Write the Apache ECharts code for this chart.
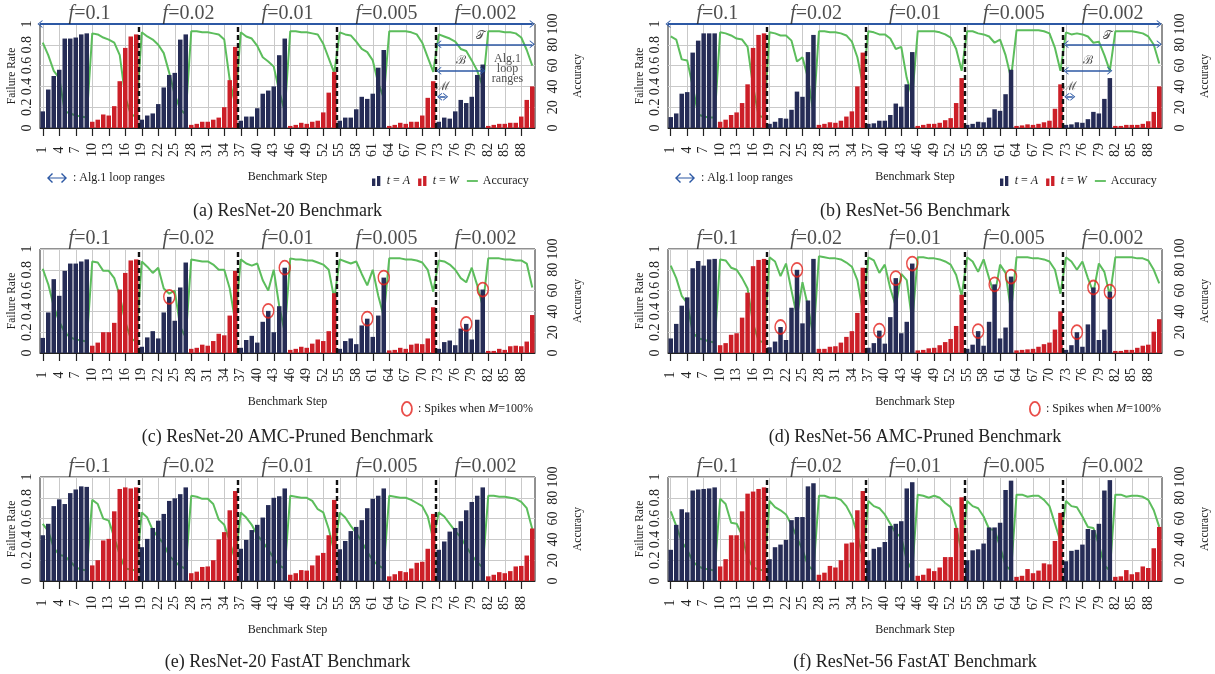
<!DOCTYPE html>
<html><head><meta charset="utf-8">
<script src="https://cdn.jsdelivr.net/npm/echarts@6/dist/echarts.min.js"></script>
<style>html,body{margin:0;padding:0;background:#fff}#c{width:1215px;height:674px}</style>
</head><body><div id="c"></div>
<script>
// ---------------- data ----------------
const steps = []; for (let i = 1; i <= 90; i++) steps.push(String(i));
const fLabels = ['0.1', '0.02', '0.01', '0.005', '0.002'];
const segBounds = [18.5, 36.5, 54.5, 72.5];

// (a) ResNet-20
const r20Fail = [0.16,0.37,0.50,0.56,0.86,0.86,0.87,0.90,0.91, 0.06,0.08,0.13,0.12,0.21,0.45,0.77,0.88,0.90,
  0.08,0.12,0.14,0.23,0.39,0.51,0.53,0.85,0.90, 0.03,0.04,0.06,0.06,0.08,0.10,0.20,0.46,0.78,
  0.07,0.11,0.11,0.19,0.33,0.36,0.40,0.70,0.86, 0.02,0.03,0.05,0.04,0.06,0.07,0.15,0.34,0.54,
  0.07,0.10,0.10,0.18,0.30,0.28,0.33,0.58,0.75, 0.02,0.03,0.05,0.04,0.06,0.06,0.12,0.29,0.45,
  0.06,0.10,0.09,0.16,0.27,0.24,0.30,0.51,0.61, 0.02,0.03,0.04,0.04,0.05,0.05,0.11,0.27,0.40];
const r20Acc = [82,70,55,48,16,14,12,11,10, 91,90,87,85,82,70,30,13,11,
  92,88,85,80,72,53,32,18,13, 93,93,92,92,91,90,85,46,22,
  92,88,86,79,68,64,59,35,16, 93,93,92,92,91,90,81,67,53,
  92,90,89,83,76,73,65,43,29, 93,93,93,93,92,90,82,68,54,
  90,88,86,83,76,74,65,55,40, 93,93,93,92,92,91,87,75,60];
// (b) ResNet-56
const r56Fail = [0.105,0.14,0.33,0.345,0.725,0.84,0.91,0.91,0.91, 0.06,0.08,0.125,0.15,0.24,0.42,0.77,0.895,0.91,
  0.04,0.06,0.095,0.09,0.175,0.35,0.30,0.73,0.895, 0.03,0.04,0.055,0.05,0.07,0.11,0.16,0.40,0.725,
  0.04,0.045,0.07,0.07,0.125,0.235,0.205,0.42,0.73, 0.02,0.03,0.04,0.04,0.05,0.075,0.095,0.24,0.48,
  0.03,0.04,0.06,0.055,0.10,0.18,0.165,0.325,0.56, 0.02,0.025,0.035,0.03,0.04,0.055,0.07,0.185,0.42,
  0.03,0.035,0.055,0.05,0.085,0.155,0.14,0.28,0.48, 0.02,0.02,0.03,0.03,0.03,0.04,0.065,0.155,0.40];
const r56Acc = [88,85,66,65,40,13,11,10,10, 92,91,89,86,85,78,40,12,10,
  92,91,89,89,84,64,68,48,14, 93,93,92,92,91,89,83,68,42,
  93,92,90,90,86,76,78,48,30, 93,93,93,93,92,90,87,76,55,
  93,93,91,90,88,82,85,70,48, 94,94,94,94,94,93,91,77,55,
  92,90,91,90,88,82,83,70,55, 93,93,93,93,92,91,88,80,62];
// (c) ResNet-20 AMC-Pruned
const r20AmcFail = [0.145,0.39,0.71,0.55,0.79,0.86,0.86,0.88,0.90, 0.07,0.10,0.20,0.20,0.29,0.61,0.77,0.89,0.90,
  0.06,0.15,0.21,0.14,0.39,0.54,0.31,0.63,0.87, 0.04,0.05,0.08,0.07,0.115,0.185,0.17,0.36,0.79,
  0.05,0.125,0.165,0.10,0.30,0.405,0.20,0.45,0.82, 0.03,0.04,0.06,0.05,0.09,0.13,0.115,0.21,0.575,
  0.04,0.115,0.14,0.085,0.265,0.33,0.155,0.36,0.725, 0.025,0.03,0.05,0.04,0.08,0.09,0.085,0.14,0.44,
  0.04,0.105,0.12,0.075,0.235,0.28,0.13,0.32,0.61, 0.02,0.02,0.04,0.03,0.065,0.07,0.065,0.11,0.365];
const r20AmcAcc = [81,66,45,30,20,15,13,12,11, 88,87,79,79,72,55,30,14,11,
  88,83,77,82,62,57,60,25,15, 90,89,88,88,85,80,80,62,30,
  90,86,84,86,70,60,80,45,20, 91,90,90,89,89,87,85,80,52,
  90,88,86,88,76,65,80,55,35, 91,91,91,90,90,89,87,80,59,
  89,88,85,80,72,68,82,65,45, 91,91,91,90,90,89,89,86,63];
const r20AmcSpikes = [24, 42, 45, 60, 63, 78, 81];
// (d) ResNet-56 AMC-Pruned
const r56AmcFail = [0.14,0.28,0.455,0.535,0.815,0.885,0.84,0.90,0.905, 0.075,0.095,0.175,0.19,0.34,0.58,0.835,0.895,0.905,
  0.055,0.11,0.25,0.125,0.435,0.80,0.285,0.505,0.905, 0.04,0.04,0.06,0.065,0.10,0.155,0.21,0.385,0.82,
  0.05,0.095,0.215,0.09,0.345,0.72,0.19,0.30,0.86, 0.025,0.03,0.045,0.05,0.075,0.105,0.135,0.26,0.56,
  0.04,0.08,0.21,0.07,0.30,0.66,0.14,0.245,0.735, 0.025,0.03,0.035,0.04,0.06,0.085,0.10,0.225,0.40,
  0.03,0.075,0.20,0.06,0.275,0.63,0.125,0.225,0.59, 0.02,0.02,0.03,0.03,0.05,0.07,0.08,0.205,0.325];
const r56AmcAcc = [84,72,55,48,20,14,13,11,10, 90,89,82,80,72,62,28,12,10,
  92,88,74,86,60,35,68,45,15, 93,92,91,91,90,87,83,70,40,
  92,89,77,85,62,45,76,70,30, 92,92,91,91,90,88,85,75,55,
  92,88,78,90,72,55,85,77,40, 92,92,92,91,91,90,88,80,57,
  92,88,80,88,72,58,86,78,55, 92,92,92,92,91,91,89,80,67];
const r56AmcSpikes = [21, 24, 39, 42, 45, 57, 60, 63, 75, 78, 81];
// (e) ResNet-20 FastAT
const r20FatFail = [0.44,0.55,0.72,0.785,0.74,0.845,0.88,0.91,0.905, 0.15,0.20,0.39,0.405,0.67,0.885,0.90,0.89,0.90,
  0.325,0.405,0.51,0.58,0.645,0.77,0.795,0.835,0.90, 0.075,0.09,0.135,0.14,0.20,0.40,0.47,0.68,0.865,
  0.31,0.395,0.49,0.54,0.61,0.73,0.80,0.815,0.89, 0.06,0.075,0.105,0.10,0.15,0.245,0.27,0.44,0.78,
  0.305,0.385,0.48,0.52,0.585,0.70,0.79,0.82,0.89, 0.045,0.065,0.095,0.085,0.12,0.175,0.185,0.31,0.645,
  0.30,0.38,0.475,0.51,0.575,0.68,0.76,0.82,0.90, 0.045,0.06,0.085,0.075,0.095,0.14,0.145,0.245,0.505];
const r20FatAcc = [55,48,32,25,24,19,13,11,10, 78,74,60,58,42,25,12,11,10,
  66,61,49,42,36,24,19,14,12, 82,81,79,79,74,59,54,38,20,
  66,61,54,44,38,30,22,15,12, 82,81,80,80,77,69,66,50,28,
  66,61,53,46,38,28,20,15,12, 82,81,80,80,78,75,72,62,40,
  66,62,55,48,42,33,25,18,13, 82,82,81,81,80,79,76,70,50];
// (f) ResNet-56 FastAT
const r56FatFail = [0.30,0.54,0.69,0.66,0.87,0.88,0.885,0.89,0.90, 0.14,0.21,0.44,0.44,0.67,0.84,0.86,0.885,0.90,
  0.21,0.325,0.35,0.395,0.585,0.615,0.615,0.91,0.94, 0.06,0.08,0.145,0.13,0.20,0.36,0.37,0.68,0.865,
  0.20,0.31,0.325,0.375,0.53,0.55,0.575,0.89,0.95, 0.05,0.06,0.12,0.095,0.13,0.23,0.23,0.51,0.805,
  0.20,0.295,0.305,0.36,0.515,0.515,0.56,0.875,0.965, 0.04,0.05,0.115,0.075,0.10,0.17,0.16,0.385,0.655,
  0.19,0.29,0.30,0.35,0.50,0.49,0.55,0.87,0.97, 0.04,0.045,0.105,0.065,0.085,0.14,0.125,0.315,0.52];
const r56FatAcc = [67,53,38,30,19,14,12,11,10, 79,74,56,55,44,22,13,11,10,
  77,71,68,64,54,42,30,15,10, 82,82,80,80,78,72,62,45,22,
  77,72,70,64,55,46,42,20,10, 83,82,80,82,80,75,71,52,28,
  77,72,70,62,50,49,33,15,10, 83,83,81,82,82,78,72,55,38,
  77,72,71,62,52,51,35,15,10, 83,83,81,82,82,81,78,68,52];

// Alg.1 loop ranges (data coordinates: step, failure rate)
const loopArrows = [
  { from: [0.5, 1], to: [90, 1], width: 2 },
  { from: [73, 0.805], to: [90, 0.805], width: 1.5 },
  { from: [73, 0.55], to: [81, 0.55], width: 1.5 },
  { from: [73.15, 0.3], to: [74.25, 0.3], width: 1.5 }
];
const loopLetters = [[80.6, 0.89, '𝒯'], [77, 0.645, 'ℬ'], [73.8, 0.40, 'ℳ']];
const loopNote = [[85.5, 0.57, 'Alg.1\nloop\nranges']];

// ---------------- style ----------------
const SERIF = "'Liberation Serif','DejaVu Serif',serif";
const NAVY = '#262c56', RED = '#cc1f28', GREEN = '#5cbd5c', BLUE = '#2c58a4';
const GRIDC = '#c9c9c9', INK = '#222';
const CHEV = 'path://M0,10 L10,0 L20,10 L17.4,10 L10,2.9 L2.6,10 Z';
const BAR_ICON = 'path://M0,3 L4,3 L4,12 L0,12 Z M6,0 L10,0 L10,12 L6,12 Z';
const LINE_ICON = 'path://M0,0 L12,0 L12,2 L0,2 Z';
const DBL_ARROW = 'path://M0,5 L5,0 L6,1 L2.4,4.4 L17.6,4.4 L14,1 L15,0 L20,5 L15,10 L14,9 L17.6,5.6 L2.4,5.6 L6,9 L5,10 Z';
const ELLIPSE = 'path://M5,0 A5,7 0 1,0 5,14 A5,7 0 1,0 5,0 Z';

const panels = [
  { fail: r20Fail, acc: r20Acc, left: 40, top: 24, width: 495, capY: 211, caption: '(a) ResNet-20 Benchmark', loop: true, note: true },
  { fail: r56Fail, acc: r56Acc, left: 668, top: 24, width: 494, capY: 211, caption: '(b) ResNet-56 Benchmark', loop: true, note: false },
  { fail: r20AmcFail, acc: r20AmcAcc, left: 40, top: 249, width: 495, capY: 437, caption: '(c) ResNet-20 AMC-Pruned Benchmark', spikes: r20AmcSpikes },
  { fail: r56AmcFail, acc: r56AmcAcc, left: 668, top: 249, width: 494, capY: 437, caption: '(d) ResNet-56 AMC-Pruned Benchmark', spikes: r56AmcSpikes },
  { fail: r20FatFail, acc: r20FatAcc, left: 40, top: 477, width: 495, capY: 662, caption: '(e) ResNet-20 FastAT Benchmark' },
  { fail: r56FatFail, acc: r56FatAcc, left: 668, top: 477, width: 494, capY: 662, caption: '(f) ResNet-56 FastAT Benchmark' }
];
const PH = 104;

const option = {
  animation: false, backgroundColor: '#fff',
  grid: [], xAxis: [], yAxis: [], series: [], legend: [], graphic: []
};
const isA = i => (i % 18) < 9;

panels.forEach((p, k) => {
  option.grid.push({ left: p.left, top: p.top, width: p.width, height: PH, show: true, borderColor: INK, borderWidth: 1, backgroundColor: 'rgba(0,0,0,0)' });
  const cx = 2 * k, vx = 2 * k + 1, ly = 2 * k, ry = 2 * k + 1;
  option.xAxis.push({
    type: 'category', gridIndex: k, data: steps, boundaryGap: true,
    axisLine: { show: true, lineStyle: { color: INK, width: 1 } },
    axisTick: { show: true, interval: 2, alignWithLabel: true, length: 8, lineStyle: { color: INK, width: 1.2 } },
    axisLabel: { interval: 2, rotate: 90, align: 'center', verticalAlign: 'middle', margin: 22, fontSize: 14, fontFamily: SERIF, color: INK },
    splitLine: { show: true, interval: 2, alignWithLabel: true, lineStyle: { color: GRIDC, width: 1 } },
    name: 'Benchmark Step', nameLocation: 'middle', nameGap: 43,
    nameTextStyle: { fontSize: 12, fontFamily: SERIF, color: INK }
  });
  option.xAxis.push({ type: 'value', gridIndex: k, min: 0.5, max: 90.5, show: false });
  option.yAxis.push({
    type: 'value', gridIndex: k, min: 0, max: 1, interval: 0.2, position: 'left',
    axisLine: { show: false }, axisTick: { show: false },
    splitLine: { show: true, lineStyle: { color: GRIDC, width: 1 } },
    axisLabel: { rotate: 90, align: 'center', verticalAlign: 'middle', margin: 13, fontSize: 14, fontFamily: SERIF, color: INK },
    name: 'Failure Rate', nameLocation: 'middle', nameGap: 22, nameRotate: 90,
    nameTextStyle: { fontSize: 11.5, fontFamily: SERIF, color: INK }
  });
  option.yAxis.push({
    type: 'value', gridIndex: k, min: 0, max: 100, interval: 20, position: 'right',
    axisLine: { show: false }, axisTick: { show: false }, splitLine: { show: false },
    axisLabel: { rotate: 90, align: 'center', verticalAlign: 'middle', margin: 18, fontSize: 14, fontFamily: SERIF, color: INK },
    name: 'Accuracy', nameLocation: 'middle', nameGap: 37, nameRotate: 90,
    nameTextStyle: { fontSize: 11.5, fontFamily: SERIF, color: INK }
  });

  option.series.push({
    name: 'Accuracy', type: 'line', xAxisIndex: cx, yAxisIndex: ry, data: p.acc,
    symbol: 'none', lineStyle: { color: GREEN, width: 2 }, itemStyle: { color: GREEN }, z: 2
  });
  option.series.push({
    name: 't = A', type: 'bar', xAxisIndex: cx, yAxisIndex: ly,
    data: p.fail.map((v, i) => isA(i) ? v : '-'),
    barGap: '-100%', barCategoryGap: '18%', itemStyle: { color: NAVY }, z: 3
  });
  option.series.push({
    name: 't = W', type: 'bar', xAxisIndex: cx, yAxisIndex: ly,
    data: p.fail.map((v, i) => isA(i) ? '-' : v),
    barGap: '-100%', barCategoryGap: '18%', itemStyle: { color: RED }, z: 3
  });
  // segment boundaries
  option.series.push({
    name: 'bounds', type: 'line', xAxisIndex: vx, yAxisIndex: ly, data: [], silent: true, z: 5,
    markLine: {
      silent: true, symbol: 'none', label: { show: false },
      lineStyle: { color: '#111', width: 2.4, type: [5, 3] },
      data: segBounds.map(b => ({ xAxis: b }))
    }
  });
  // f labels
  option.series.push({
    name: 'flabels', type: 'scatter', xAxisIndex: vx, yAxisIndex: ly, silent: true, z: 6,
    symbolSize: 1, itemStyle: { color: 'rgba(0,0,0,0)' },
    data: fLabels.map((t, j) => [9.5 + 18 * j, 1, t]),
    label: {
      show: true, position: 'top', distance: 0, color: INK,
      formatter: prm => '{i|f}=' + prm.value[2],
      fontSize: 20, fontFamily: SERIF,
      rich: { i: { fontStyle: 'italic', fontSize: 20, fontFamily: SERIF, color: INK } }
    }
  });
  if (p.loop) {
    option.series.push({
      name: 'Alg.1 loop ranges', type: 'line', xAxisIndex: vx, yAxisIndex: ly, data: [], z: 7,
      itemStyle: { color: BLUE }, lineStyle: { color: BLUE },
      markLine: {
        silent: true, symbol: [CHEV, CHEV], symbolSize: [8, 5], label: { show: false },
        data: loopArrows.map(a => [
          { coord: a.from, lineStyle: { color: BLUE, width: a.width, type: 'solid' } },
          { coord: a.to }
        ])
      }
    });
    option.series.push({
      name: 'loopLetters', type: 'scatter', xAxisIndex: vx, yAxisIndex: ly, silent: true, z: 7,
      symbolSize: 1, itemStyle: { color: 'rgba(0,0,0,0)' },
      data: loopLetters.concat(p.note ? loopNote : []),
      label: {
        show: true, position: 'inside', color: INK, fontFamily: SERIF,
        formatter: prm => prm.value[2],
        fontSize: 12, lineHeight: 10
      }
    });
    option.legend.push({
      left: p.left + 2, top: p.top + 143, selectedMode: false,
      itemWidth: 22, itemHeight: 10, symbolKeepAspect: true,
      data: [{ name: 'Alg.1 loop ranges', icon: DBL_ARROW }],
      formatter: () => ': Alg.1 loop ranges',
      textStyle: { fontSize: 12, fontFamily: SERIF, color: INK }
    });
    option.legend.push({
      left: p.left + 327, top: p.top + 146, selectedMode: false, itemGap: 8,
      itemWidth: 11, itemHeight: 10,
      data: [{ name: 't = A', icon: BAR_ICON }, { name: 't = W', icon: BAR_ICON }, { name: 'Accuracy', icon: LINE_ICON }],
      formatter: n => n === 't = A' ? '{i|t} = {i|A}' : (n === 't = W' ? '{i|t} = {i|W}' : n),
      textStyle: { fontSize: 12, fontFamily: SERIF, color: INK,
        rich: { i: { fontStyle: 'italic', fontSize: 12, fontFamily: SERIF, color: INK } } }
    });
  }
  if (p.spikes) {
    option.series.push({
      name: 'Spikes', type: 'scatter', xAxisIndex: cx, yAxisIndex: ly, z: 8,
      symbol: 'circle', symbolSize: [11, 14],
      itemStyle: { color: 'rgba(0,0,0,0)', borderColor: '#e3201c', borderWidth: 1.6 },
      data: p.spikes.map(s => [s - 1, p.fail[s - 1]])
    });
    option.legend.push({
      left: p.left + 356, top: p.top + 147, selectedMode: false,
      itemWidth: 12, itemHeight: 14, symbolKeepAspect: true,
      data: [{ name: 'Spikes', icon: ELLIPSE, itemStyle: { color: 'rgba(0,0,0,0)', borderColor: '#e3201c', borderWidth: 1.8 } }],
      formatter: () => ': Spikes when {i|M}=100%',
      textStyle: { fontSize: 12, fontFamily: SERIF, color: INK,
        rich: { i: { fontStyle: 'italic', fontSize: 12, fontFamily: SERIF, color: INK } } }
    });
  }
  option.graphic.push({
    type: 'text', x: p.left + p.width / 2, y: p.capY, silent: true,
    style: { text: p.caption, fontSize: 18, fontFamily: SERIF, fill: INK, textAlign: 'center', textVerticalAlign: 'middle' }
  });
});

const chart = echarts.init(document.getElementById('c'), null, { renderer: 'canvas' });
chart.setOption(option);
</script></body></html>
